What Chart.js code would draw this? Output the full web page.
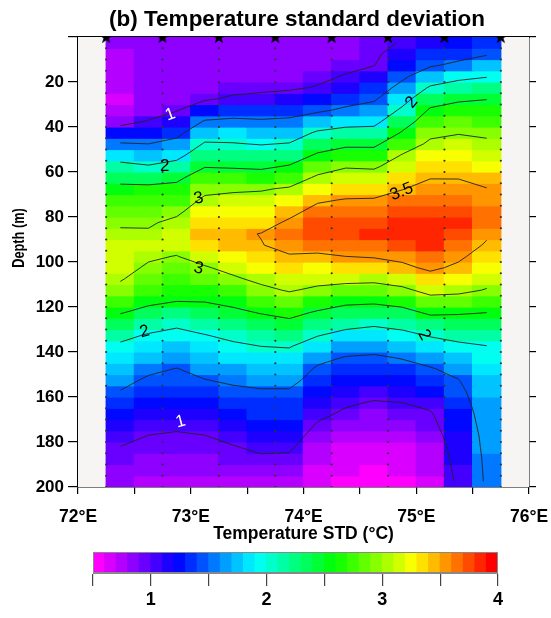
<!DOCTYPE html>
<html><head><meta charset="utf-8">
<script src="https://cdn.jsdelivr.net/npm/chart.js@4.4.1/dist/chart.umd.min.js"></script>
<style>
html,body{margin:0;padding:0;background:#fff;}
#wrap{position:relative;width:551px;height:618px;overflow:hidden;}
#main{position:absolute;left:0;top:0;}
#cbar{position:absolute;left:0;top:545px;}
</style></head><body>
<div id="wrap"><canvas id="main" width="551" height="545"></canvas><canvas id="cbar" width="551" height="73"></canvas></div>
<script>
// ---------- data ----------
const titleText = '(b) Temperature standard deviation';
const xTitle = 'Temperature STD (°C)';
const yTitle = 'Depth (m)';
const xTickValues = [72, 73, 74, 75, 76];
const xTickLabels = ['72°E', '73°E', '74°E', '75°E', '76°E'];
const yTickValues = [20, 40, 60, 80, 100, 120, 140, 160, 180, 200];
const cbTickValues = [1, 2, 3, 4];

// grid column centres (longitude) and depth rows (m)
const lonCenters = [72.375, 72.625, 72.875, 73.125, 73.375, 73.625, 73.875, 74.125, 74.375, 74.625, 74.875, 75.125, 75.375, 75.625];
const depthTop = [0,5,10,15,20,25,30,35,40,45,50,55,60,65,70,75,80,85,90,95,100,105,110,115,120,125,130,135,140,145,150,155,160,165,170,175,180,185,190,195];
const depthBottom = [5,10,15,20,25,30,35,40,45,50,55,60,65,70,75,80,85,90,95,100,105,110,115,120,125,130,135,140,145,150,155,160,165,170,175,180,185,190,195,200];
const depthMid = [2.5,7.5,12.5,17.5,22.5,27.5,32.5,37.5,42.5,47.5,52.5,57.5,62.5,67.5,72.5,77.5,82.5,87.5,92.5,97.5,102.5,107.5,112.5,117.5,122.5,127.5,132.5,137.5,142.5,147.5,152.5,157.5,162.5,167.5,172.5,177.5,182.5,187.5,192.5,197.5];

// temperature STD (°C), one array per longitude column, top to bottom
const std_72_375 = [0.8,0.79,0.78,0.76,0.73,0.69,0.7,0.88,1.2,1.53,1.82,2.11,2.39,2.58,2.7,2.83,2.95,3.06,3.16,3.18,3.1,3.03,2.9,2.71,2.52,2.31,2.1,1.94,1.83,1.72,1.6,1.49,1.39,1.29,1.19,1.09,0.99,0.94,0.88,0.82];
const std_72_625 = [0.82,0.82,0.81,0.81,0.8,0.8,0.86,1.02,1.26,1.5,1.76,2.03,2.32,2.6,2.75,2.88,2.96,3.04,3.1,3.04,2.96,2.83,2.7,2.57,2.39,2.17,1.97,1.84,1.7,1.57,1.45,1.36,1.27,1.17,1.08,0.99,0.94,0.88,0.83,0.77];
const std_72_875 = [0.82,0.82,0.81,0.81,0.8,0.85,0.98,1.17,1.39,1.62,1.88,2.14,2.42,2.61,2.77,2.93,3.08,3.13,3.1,2.99,2.87,2.75,2.63,2.5,2.28,2.06,1.9,1.76,1.62,1.49,1.4,1.31,1.22,1.13,1.04,0.97,0.91,0.85,0.8,0.74];
const std_73_125 = [0.82,0.82,0.81,0.8,0.84,0.96,1.24,1.53,1.79,2.04,2.26,2.48,2.7,2.9,3.07,3.2,3.33,3.4,3.3,3.14,2.97,2.8,2.65,2.51,2.34,2.16,1.99,1.86,1.74,1.61,1.49,1.39,1.29,1.18,1.08,0.99,0.93,0.87,0.82,0.77];
const std_73_375 = [0.82,0.82,0.81,0.8,0.9,1.05,1.32,1.57,1.82,2.02,2.24,2.46,2.7,2.95,3.1,3.22,3.33,3.44,3.4,3.25,3.1,2.95,2.77,2.59,2.42,2.25,2.08,1.94,1.81,1.68,1.55,1.44,1.35,1.26,1.17,1.07,0.98,0.92,0.85,0.78];
const std_73_625 = [0.8,0.8,0.8,0.81,0.93,1.09,1.32,1.54,1.76,1.98,2.2,2.43,2.69,2.97,3.12,3.25,3.38,3.51,3.49,3.35,3.22,3.08,2.92,2.72,2.52,2.34,2.17,2.0,1.87,1.73,1.6,1.47,1.39,1.3,1.22,1.13,1.05,0.96,0.86,0.77];
const std_73_875 = [0.8,0.8,0.8,0.85,0.96,1.13,1.35,1.57,1.79,2.02,2.28,2.53,2.79,3.04,3.22,3.41,3.55,3.64,3.58,3.48,3.33,3.18,3.03,2.83,2.6,2.41,2.22,2.02,1.88,1.74,1.6,1.47,1.38,1.3,1.21,1.13,1.04,0.95,0.85,0.75];
const std_74_125 = [0.85,0.85,0.86,0.93,1.02,1.23,1.44,1.73,2.05,2.3,2.55,2.82,3.06,3.26,3.46,3.6,3.72,3.74,3.62,3.45,3.28,3.12,2.93,2.69,2.46,2.24,2.02,1.81,1.6,1.45,1.36,1.26,1.17,1.07,0.97,0.88,0.79,0.72,0.67,0.62];
const std_74_375 = [0.88,0.88,0.93,1.02,1.19,1.36,1.56,1.85,2.14,2.42,2.69,2.97,3.17,3.35,3.52,3.63,3.74,3.76,3.64,3.5,3.3,3.1,2.86,2.58,2.34,2.11,1.89,1.67,1.48,1.37,1.26,1.15,1.04,0.95,0.85,0.75,0.68,0.64,0.6,0.57];
const std_74_625 = [0.92,0.95,0.99,1.14,1.3,1.45,1.66,1.89,2.14,2.42,2.68,2.95,3.15,3.35,3.53,3.64,3.75,3.8,3.67,3.53,3.3,3.09,2.83,2.56,2.3,2.05,1.83,1.63,1.45,1.33,1.21,1.09,0.98,0.89,0.8,0.71,0.66,0.62,0.59,0.56];
const std_74_875 = [1.02,1.13,1.28,1.43,1.61,1.84,2.07,2.3,2.53,2.78,3.02,3.17,3.33,3.49,3.6,3.7,3.8,3.85,3.7,3.58,3.43,3.18,2.92,2.64,2.37,2.12,1.9,1.71,1.52,1.38,1.26,1.13,1.0,0.9,0.81,0.71,0.67,0.63,0.6,0.56];
const std_75_125 = [1.18,1.33,1.46,1.73,2.05,2.32,2.55,2.73,2.91,3.07,3.21,3.35,3.49,3.58,3.67,3.76,3.85,3.89,3.8,3.69,3.56,3.37,3.12,2.85,2.56,2.29,2.03,1.83,1.65,1.47,1.34,1.2,1.07,0.97,0.91,0.85,0.78,0.74,0.71,0.69];
const std_75_375 = [1.25,1.38,1.57,1.9,2.18,2.45,2.63,2.81,2.98,3.11,3.24,3.36,3.49,3.57,3.65,3.73,3.8,3.71,3.64,3.56,3.44,3.27,3.09,2.83,2.54,2.3,2.11,1.93,1.78,1.62,1.49,1.42,1.36,1.29,1.23,1.18,1.15,1.12,1.09,1.06];
const std_75_625 = [1.35,1.47,1.7,1.98,2.23,2.49,2.64,2.79,2.94,3.06,3.17,3.29,3.4,3.51,3.57,3.63,3.6,3.54,3.47,3.35,3.23,3.11,2.98,2.74,2.5,2.33,2.16,1.99,1.92,1.85,1.79,1.72,1.69,1.67,1.65,1.62,1.6,1.58,1.57,1.56];

const contourLevels = [1, 1.5, 2, 2.5, 3, 3.5];

// station positions (stars) and sampling depths (dots)
const stationLon = [72.25, 72.75, 73.25, 73.75, 74.25, 74.75, 75.25, 75.75];
const sampleDepth = [5,10,15,20,25,30,35,40,45,50,55,60,65,70,75,80,85,90,95,100,105,110,115,120,125,130,135,140,145,150,155,160,165,170,175,180,185,190,195,200];

// contour labels
const labelText  = ['1', '2', '3', '3', '2', '1', '3.5', '2', '2'];
const labelLon   = [72.82, 72.77, 73.07, 73.07, 72.59, 72.91, 74.87, 74.96, 75.07];
const labelDepth = [34.5, 57.6, 71.7, 102.8, 131, 171, 68.8, 29, 132.4];
const labelWhite = [true, false, false, false, false, true, false, false, false];
const labelAngle = [-20, 0, -12, 12, -15, -15, -22, -50, 60];

// colour bar level centres
const cbLevels = [0.55,0.65,0.75,0.85,0.95,1.05,1.15,1.25,1.35,1.45,1.55,1.65,1.75,1.85,1.95,2.05,2.15,2.25,2.35,2.45,2.55,2.65,2.75,2.85,2.95,3.05,3.15,3.25,3.35,3.45,3.55,3.65,3.75,3.85,3.95];

// ---------- helpers ----------
const stdColumns = [std_72_375, std_72_625, std_72_875, std_73_125, std_73_375, std_73_625, std_73_875, std_74_125, std_74_375, std_74_625, std_74_875, std_75_125, std_75_375, std_75_625];
const FONT = '"Liberation Sans", Arial, Helvetica, sans-serif';
const NARROW = '"Liberation Sans Narrow", "Arial Narrow", "Liberation Sans", Arial, sans-serif';
const V_MIN = 0.5, NLEV = 35;
function levelOf(v) { return Math.max(0, Math.min(NLEV - 1, Math.floor((v - V_MIN) / 0.1 + 1e-9))); }
function levelColor(k) { const h = 300 - k * 300 / (NLEV - 1); return 'hsl(' + h.toFixed(1) + ',100%,50%)'; }

function contourPoints(L) {
  const pts = [];
  const gap = {x: NaN, y: NaN};
  for (let j = 0; j < lonCenters.length - 1; j++) {
    for (let i = 0; i < depthMid.length - 1; i++) {
      const x0 = lonCenters[j], x1 = lonCenters[j + 1], y0 = depthMid[i], y1 = depthMid[i + 1];
      const a = stdColumns[j][i], b = stdColumns[j + 1][i], c = stdColumns[j + 1][i + 1], d = stdColumns[j][i + 1];
      const cr = (p, q) => (p < L) !== (q < L);
      const t = (p, q) => (L - p) / (q - p);
      const e = {};
      if (cr(a, b)) e[0] = {x: x0 + (x1 - x0) * t(a, b), y: y0};
      if (cr(b, c)) e[1] = {x: x1, y: y0 + (y1 - y0) * t(b, c)};
      if (cr(d, c)) e[2] = {x: x0 + (x1 - x0) * t(d, c), y: y1};
      if (cr(a, d)) e[3] = {x: x0, y: y0 + (y1 - y0) * t(a, d)};
      const keys = Object.keys(e);
      if (keys.length === 2) {
        pts.push(e[keys[0]], e[keys[1]], gap);
      } else if (keys.length === 4) {
        const centre = (a + b + c + d) / 4;
        const pairs = ((centre >= L) === (a >= L)) ? [[0, 1], [2, 3]] : [[0, 3], [1, 2]];
        pairs.forEach(p => pts.push(e[p[0]], e[p[1]], gap));
      }
    }
  }
  return pts;
}

function makeStar() {
  const c = document.createElement('canvas');
  c.width = 14; c.height = 14;
  const g = c.getContext('2d');
  g.fillStyle = '#000';
  g.beginPath();
  for (let k = 0; k < 10; k++) {
    const r = k % 2 === 0 ? 7 : 2.8;
    const ang = -Math.PI / 2 + k * Math.PI / 5;
    const px = 7 + r * Math.cos(ang), py = 7.5 + r * Math.sin(ang);
    if (k === 0) g.moveTo(px, py); else g.lineTo(px, py);
  }
  g.closePath(); g.fill();
  return c;
}

// ---------- datasets ----------
const cellDatasets = depthTop.map((top, i) => ({
  type: 'bar',
  data: lonCenters.map((lon) => ({x: lon, y: [top, depthBottom[i]]})),
  backgroundColor: lonCenters.map((lon, j) => levelColor(levelOf(stdColumns[j][i]))),
  borderWidth: 0, barPercentage: 1, categoryPercentage: 1, grouped: false, inflateAmount: 0.6,
  order: 10, xAxisID: 'x', yAxisID: 'y'
}));
const contourDatasets = contourLevels.map(L => ({
  type: 'line', label: 'contour ' + L, data: contourPoints(L),
  borderColor: '#222', borderWidth: 0.9, pointRadius: 0, spanGaps: false, tension: 0, fill: false,
  order: 2, xAxisID: 'x', yAxisID: 'y'
}));
const dotData = [];
stationLon.forEach(lon => sampleDepth.forEach(dp => dotData.push({x: lon, y: dp})));
const dotDataset = {type: 'scatter', data: dotData, pointRadius: 1.1, pointBackgroundColor: '#333', pointBorderWidth: 0, order: 1, xAxisID: 'x', yAxisID: 'y'};
const starDataset = {type: 'scatter', data: stationLon.map(lon => ({x: lon, y: 0})), pointStyle: makeStar(), pointRadius: 7, order: 0, xAxisID: 'x', yAxisID: 'y'};

// ---------- plugins ----------
const bgPlugin = {
  id: 'plotBg',
  beforeDatasetsDraw(chart) {
    const {ctx, chartArea: a} = chart;
    ctx.save(); ctx.fillStyle = '#f7f4f4'; ctx.fillRect(a.left, a.top, a.right - a.left, a.bottom - a.top); ctx.restore();
  }
};
const labelPlugin = {
  id: 'contourLabels',
  afterDatasetsDraw(chart) {
    const {ctx} = chart; const xs = chart.scales.x, ys = chart.scales.y;
    ctx.save();
    ctx.font = '17px ' + FONT; ctx.textAlign = 'center'; ctx.textBaseline = 'middle';
    labelText.forEach((t, k) => {
      ctx.save();
      ctx.translate(xs.getPixelForValue(labelLon[k]), ys.getPixelForValue(labelDepth[k]));
      ctx.rotate(labelAngle[k] * Math.PI / 180);
      ctx.fillStyle = labelWhite[k] ? '#fff' : '#000';
      ctx.fillText(t, 0, 0);
      ctx.restore();
    });
    ctx.restore();
  },
  afterDraw(chart) {
    const {ctx} = chart;
    ctx.save(); ctx.fillStyle = '#000'; ctx.textAlign = 'center'; ctx.textBaseline = 'middle';
    ctx.font = 'bold 22.5px ' + FONT;
    ctx.fillText(titleText, 297, 20);
    ctx.translate(19, 238); ctx.rotate(-Math.PI / 2); ctx.scale(0.75, 1);
    ctx.font = 'bold 17px ' + FONT;
    ctx.fillText(yTitle, 0, 0);
    ctx.restore();
  }
};

new Chart(document.getElementById('main'), {
  type: 'bar',
  data: {datasets: [starDataset, dotDataset, ...contourDatasets, ...cellDatasets]},
  options: {
    responsive: false, animation: false, devicePixelRatio: 1,
    layout: {padding: 0},
    plugins: {legend: {display: false}, tooltip: {enabled: false}, title: {display: false}},
    scales: {
      x: {type: 'linear', position: 'bottom', min: 72, max: 76, offset: false,
        ticks: {stepSize: 0.5, autoSkip: false, maxRotation: 0, padding: 13, color: '#000', font: {family: FONT, size: 17.5, weight: 'bold'},
          callback: v => { const k = xTickValues.indexOf(v); return k >= 0 ? xTickLabels[k] : ''; }},
        grid: {drawOnChartArea: false, drawTicks: true, tickLength: 7, color: '#000', lineWidth: 1.2, offset: false},
        border: {display: true, color: '#000', width: 1.5},
        title: {display: true, text: xTitle, color: '#000', font: {family: FONT, size: 17.5, weight: 'bold'}, padding: {top: 0, bottom: 0}},
        afterFit(s) { s.height = 58; s.paddingLeft = 0; s.paddingRight = 0; }},
      xTop: {type: 'linear', position: 'top', min: 72, max: 76, offset: false,
        ticks: {display: false}, grid: {drawOnChartArea: false, drawTicks: false},
        border: {display: true, color: '#000', width: 1.5},
        afterFit(s) { s.height = 37; s.paddingLeft = 0; s.paddingRight = 0; }},
      y: {type: 'linear', position: 'left', reverse: true, min: 0, max: 200,
        ticks: {stepSize: 20, autoSkip: false, padding: 4, color: '#000', font: {family: NARROW, size: 17, weight: 'bold'},
          callback: v => yTickValues.includes(v) ? String(v) : ''},
        grid: {drawOnChartArea: false, drawTicks: true, tickLength: 10, color: '#000', lineWidth: 1.2},
        border: {display: true, color: '#000', width: 1.5},
        title: {display: false},
        afterFit(s) { s.width = 78; s.paddingTop = 0; s.paddingBottom = 0; }},
      yRight: {type: 'linear', position: 'right', reverse: true, min: 0, max: 200,
        ticks: {stepSize: 20, padding: 0, callback: () => ''},
        grid: {drawOnChartArea: false, drawTicks: true, tickLength: 7, color: '#000', lineWidth: 1.2},
        border: {display: true, color: '#000', width: 1.5},
        afterFit(s) { s.width = 22; s.paddingTop = 0; s.paddingBottom = 0; }}
    }
  },
  plugins: [bgPlugin, labelPlugin]
});

// ---------- colour bar ----------
const framePlugin = {
  id: 'cbFrame',
  afterDatasetsDraw(chart) {
    const {ctx, chartArea: a} = chart;
    ctx.save(); ctx.strokeStyle = '#888'; ctx.lineWidth = 1;
    ctx.strokeRect(a.left + 0.5, a.top + 0.5, a.right - a.left - 1, a.bottom - a.top - 1); ctx.restore();
  }
};
new Chart(document.getElementById('cbar'), {
  type: 'bar',
  data: {datasets: [{
    data: cbLevels.map(v => ({x: v, y: [0, 1]})),
    backgroundColor: cbLevels.map((v, k) => levelColor(k)),
    borderWidth: 0, barPercentage: 1, categoryPercentage: 1, grouped: false, inflateAmount: 0.5
  }]},
  options: {
    responsive: false, animation: false, devicePixelRatio: 1,
    layout: {padding: {left: 93, right: 53, top: 7, bottom: 0}},
    plugins: {legend: {display: false}, tooltip: {enabled: false}},
    scales: {
      x: {type: 'linear', min: 0.5, max: 4, offset: false,
        ticks: {stepSize: 0.5, autoSkip: false, maxRotation: 0, padding: 3, color: '#000', font: {family: FONT, size: 18, weight: 'bold'},
          callback: v => cbTickValues.includes(v) ? String(v) : ''},
        grid: {drawOnChartArea: false, drawTicks: true, tickLength: 13, color: '#444', lineWidth: 1.2, offset: false},
        border: {display: true, color: '#888', width: 1},
        afterFit(s) { s.height = 45; s.paddingLeft = 0; s.paddingRight = 0; }},
      y: {display: false, min: 0, max: 1}
    }
  },
  plugins: [framePlugin]
});
</script>
</body></html>
